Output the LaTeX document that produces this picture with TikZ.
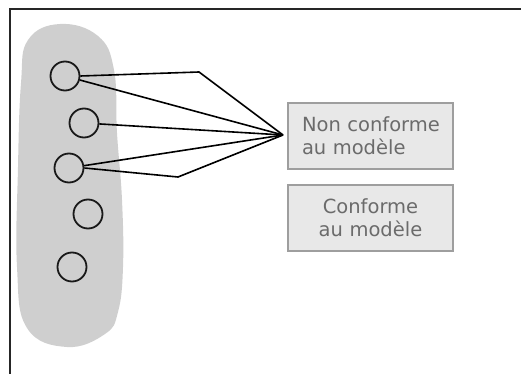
\documentclass[tikz,border=0pt]{standalone}
\usepackage{fontspec}
\setmainfont{DejaVu Sans}
\usepackage{tikz}

\begin{document}
\begin{tikzpicture}[x=1pt, y=-1pt,
	elt/.style={circle, draw=black!90, line width=1.8pt, minimum size=29pt, inner sep=0pt},
	choice/.style={rectangle, draw=black!38, line width=1.4pt, fill=black!9, text=black!58,
		minimum width=165pt, minimum height=66pt, inner xsep=14pt, text width=137pt,
		font=\fontsize{19.5}{23}\selectfont},
	link/.style={line width=1.6pt, line join=miter}]
	\useasboundingbox (0,0) rectangle (521,374);
	% frame
	\draw [line width=2pt, black!85] (10,374) -- (10,9) -- (521,9);
	% set
	\fill [black!19] plot [smooth cycle, tension=0.7] coordinates {
		(60,24) (98,36) (114,70) (117,133) (122,200) (123,267) (118,312)
		(105,334) (67,347) (27,328) (17,267) (18,167) (21,83) (28,40)};
	\node [elt] (c1) at (65,76) {};
	\node [elt] (c2) at (84,123) {};
	\node [elt] (c3) at (69,168) {};
	\node [elt] (c4) at (88,214) {};
	\node [elt] (c5) at (72,267) {};
	\node [choice, align=left] (non) at (370.5,136) {\mbox{Non conforme}\\au modèle};
	\node [choice, align=center] (conf) at (370.5,218) {Conforme\\au modèle};
	\coordinate (hub) at (283,135);
	\coordinate (k1) at (199,72);
	\coordinate (k2) at (178,177);
	\draw [link] (c1.east) -- (k1) -- (hub);
	\draw [link] (c1) -- (hub);
	\draw [link] (c2) -- (hub);
	\draw [link] (c3) -- (hub);
	\draw [link] (c3.east) -- (k2) -- (hub);
\end{tikzpicture}
\end{document}
